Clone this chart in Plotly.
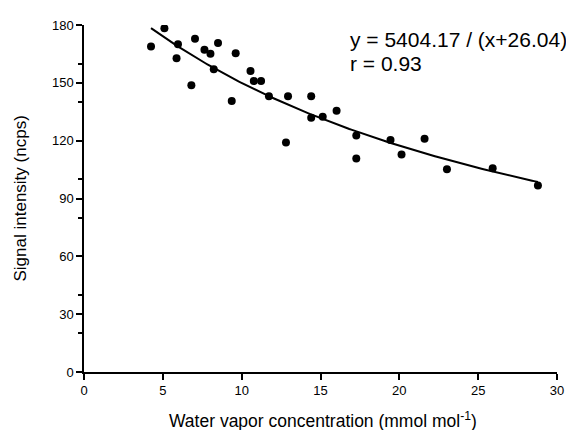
import numpy as np
import plotly.graph_objects as go

# Measured data (water vapor concentration, signal intensity)
water_vapor = [4.25, 5.10, 5.96, 5.87, 6.81, 7.04, 7.64, 8.02, 8.23, 8.50,
               9.37, 9.62, 10.56, 10.77, 11.23, 11.73, 12.81, 12.94, 14.41, 14.41,
               15.14, 16.02, 17.27, 17.27, 19.44, 20.14, 21.60, 23.02, 25.92, 28.79]
signal = [168.8, 178.3, 170.0, 162.8, 148.7, 172.9, 167.1, 165.1, 157.1, 170.7,
          140.6, 165.4, 156.2, 150.9, 150.9, 143.1, 119.1, 143.1, 143.1, 131.9,
          132.4, 135.5, 122.7, 110.8, 120.3, 112.8, 121.0, 105.2, 105.7, 96.8]

# Fit parameters shown on the chart: y = a / (x + b)
fit_a = 5404.17
fit_b = 26.04
fit_r = 0.93

x_ticks = [0, 5, 10, 15, 20, 25, 30]
y_ticks = [0, 30, 60, 90, 120, 150, 180]

fit_x = np.linspace(min(water_vapor), max(water_vapor), 200)
fit_y = fit_a / (fit_x + fit_b)

FONT = "Liberation Sans, Arial, sans-serif"

fig = go.Figure()
fig.add_trace(go.Scatter(x=fit_x, y=fit_y, mode="lines",
                         line=dict(color="black", width=2), showlegend=False,
                         hoverinfo="skip"))
fig.add_trace(go.Scatter(x=water_vapor, y=signal, mode="markers",
                         marker=dict(color="black", size=8), showlegend=False))

axis_common = dict(
    showgrid=False, zeroline=False, showline=True, linecolor="black", linewidth=1.5,
    ticks="outside", ticklen=6, tickwidth=1.5, tickcolor="black",
    tickfont=dict(family=FONT, size=13, color="black"),
    minor=dict(ticks="outside", ticklen=4, tickwidth=1.5, tickcolor="black", nticks=2),
)

fig.update_xaxes(range=[0, 30], tickvals=x_ticks, ticktext=[str(v) for v in x_ticks],
                 **axis_common)
fig.update_yaxes(range=[0, 180], tickvals=y_ticks, ticktext=[str(v) for v in y_ticks],
                 **axis_common)

fig.add_annotation(xref="paper", yref="paper", x=0.5, y=0, yanchor="middle",
                   yshift=-48, xshift=2, showarrow=False,
                   text="Water vapor concentration (mmol mol<sup>-1</sup>)",
                   font=dict(family=FONT, size=17.5, color="black"))
fig.add_annotation(xref="paper", yref="paper", x=0, y=0.5, xanchor="center",
                   xshift=-64, showarrow=False, textangle=-90,
                   text="Signal intensity (ncps)",
                   font=dict(family=FONT, size=17, color="black"))

fig.add_annotation(xref="paper", yref="paper", x=0, y=1, xanchor="left", yanchor="middle",
                   xshift=348 - 84, yshift=-(33 - 19), showarrow=False,
                   text=f"y = {fit_a:.2f} / (x+{fit_b:.2f})",
                   font=dict(family=FONT, size=21, color="black"))
fig.add_annotation(xref="paper", yref="paper", x=0, y=1, xanchor="left", yanchor="middle",
                   xshift=348 - 84, yshift=-(57 - 19), showarrow=False,
                   text=f"r = {fit_r:.2f}",
                   font=dict(family=FONT, size=21, color="black"))

# page body has an 8px margin, so the figure is sized/offset to compensate
fig.update_layout(
    width=566, height=422,
    margin=dict(l=76, r=10, t=11, b=58),
    plot_bgcolor="white", paper_bgcolor="white",
    font=dict(family=FONT, color="black"),
)

fig.write_html("out.html")
